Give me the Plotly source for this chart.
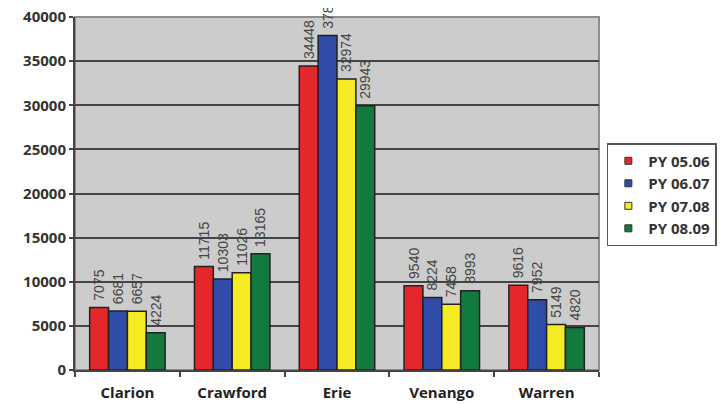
import plotly.graph_objects as go

categories = ["Clarion", "Crawford", "Erie", "Venango", "Warren"]
series_names = ["PY 05.06", "PY 06.07", "PY 07.08", "PY 08.09"]
py_05_06 = [7075, 11715, 34448, 9540, 9616]
py_06_07 = [6681, 10303, 37890, 8224, 7952]
py_07_08 = [6657, 11026, 32974, 7458, 5149]
py_08_09 = [4224, 13165, 29943, 8993, 4820]
y_ticks = [0, 5000, 10000, 15000, 20000, 25000, 30000, 35000, 40000]

colors = ["#E5262B", "#2F4DA8", "#F4EB24", "#127A3C"]
series_values = [py_05_06, py_06_07, py_07_08, py_08_09]

fig = go.Figure()
for name, vals, col in zip(series_names, series_values, colors):
    fig.add_trace(go.Bar(
        x=categories, y=vals, name=name,
        marker=dict(color=col, line=dict(color="#222222", width=1.5)),
        text=["\u00a0" + str(v) for v in vals],
        textposition="outside", textangle=-90, cliponaxis=False,
        constraintext="none",
        textfont=dict(family="Liberation Sans, Arial", size=14, color="#444444"),
        showlegend=False,
    ))
    fig.add_trace(go.Scatter(
        x=[None], y=[None], mode="markers", name=name,
        marker=dict(symbol="square", size=7, color=col,
                    line=dict(color="#333333", width=1)),
    ))

fig.update_layout(
    width=718, height=396,
    margin=dict(l=67, r=124, t=9, b=34),
    paper_bgcolor="white", plot_bgcolor="#CCCCCC",
    barmode="group", bargap=0.28, bargroupgap=0,
    font=dict(family="Open Sans", color="#333333"),
    legend=dict(
        x=1.015, xanchor="left", y=0.497, yanchor="middle",
        bordercolor="#555555", borderwidth=1.5, bgcolor="white",
        font=dict(family="Open Sans", size=15, color="#333333", weight="bold"),
        tracegroupgap=0, itemwidth=30,
    ),
    shapes=[dict(type="rect", xref="paper", yref="paper", x0=0, x1=1, y0=0, y1=1,
                 line=dict(color="#8E8E8E", width=2), layer="below")],
)
fig.update_yaxes(
    range=[0, 40000], tickvals=y_ticks, ticktext=[str(t) for t in y_ticks],
    showgrid=True, gridcolor="#444444", gridwidth=2, zeroline=False,
    showline=True, linecolor="#444444", linewidth=2,
    ticks="outside", ticklen=4, tickcolor="#444444", tickwidth=2,
    tickfont=dict(family="Open Sans", size=15, color="#333333", weight="bold"),
    automargin=False, ticklabeloverflow="allow",
)
fig.update_xaxes(
    showline=True, linecolor="#444444", linewidth=2,
    ticks="outside", tickson="boundaries", ticklen=5, tickcolor="#444444", tickwidth=2,
    tickfont=dict(family="Open Sans", size=15, color="#222222", weight="bold"),
    ticklabelstandoff=8, automargin=False, ticklabeloverflow="allow",
)

fig.write_html("out.html")
